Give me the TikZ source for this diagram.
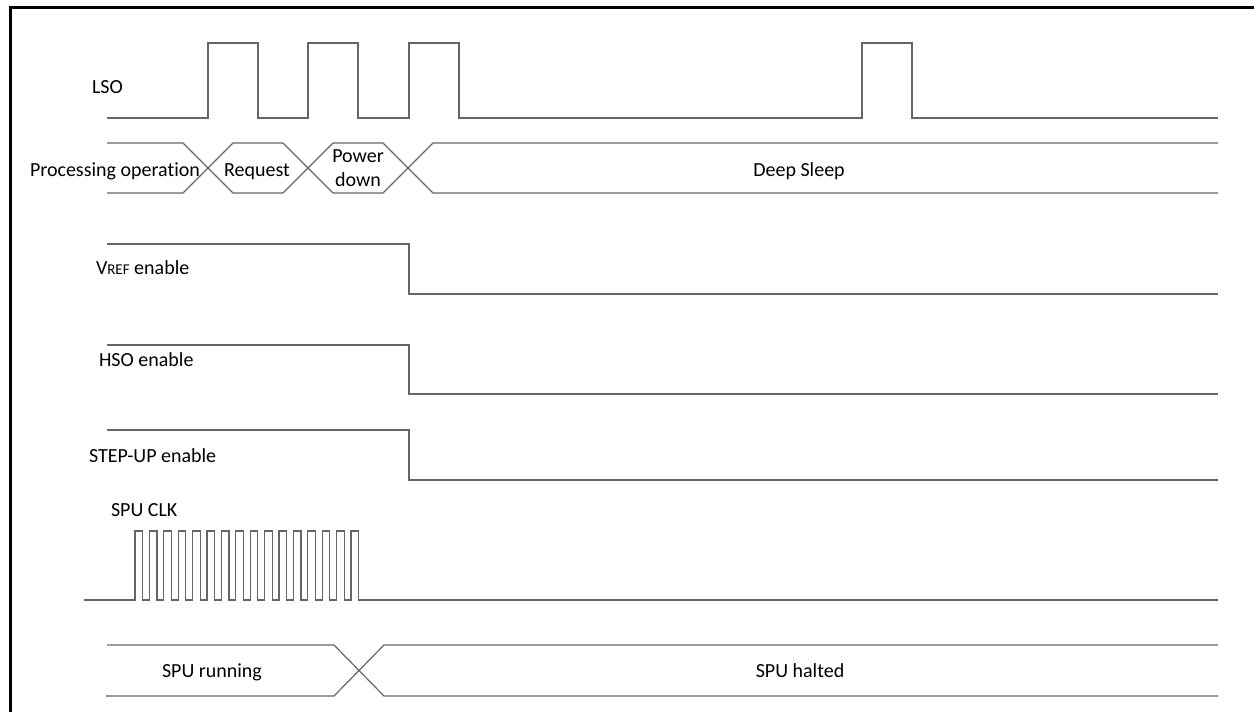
\documentclass[tikz,border=0pt]{standalone}
\usepackage{fontspec}
\setmainfont{Carlito}[Ligatures={NoCommon}]
\usepackage{tikz}

\begin{document}
\begin{tikzpicture}[x=1pt,y=1pt]
\useasboundingbox (0,0) rectangle (1254,712);

\definecolor[named]{wave}{gray}{0.40}
\tikzset{sig/.style={color=wave, line width=1.2pt, line join=miter},
  lbl/.style={font=\fontsize{20}{24}\selectfont}}

% frame
\draw[line width=3pt] (10,0) -- (10,704) -- (1254,704);

% LSO
\draw[sig] (107,594) -- (208,594) -- (208,669) -- (258,669) -- (258,594)
  -- (308,594) -- (308,669) -- (358,669) -- (358,594)
  -- (409,594) -- (409,669) -- (459,669) -- (459,594)
  -- (862,594) -- (862,669) -- (912,669) -- (912,594) -- (1218,594);

% state bus
\draw[sig] (107,569) -- (183,569) -- (233,519) -- (283,519) -- (333,569)
  -- (383,569) -- (433,519) -- (1218,519);
\draw[sig] (107,519) -- (183,519) -- (233,569) -- (283,569) -- (333,519)
  -- (383,519) -- (433,569) -- (1218,569);

% enables
\draw[sig] (107,468) -- (409,468) -- (409,418) -- (1218,418);
\draw[sig] (107,367) -- (409,367) -- (409,318) -- (1218,318);
\draw[sig] (107,282) -- (409,282) -- (409,232) -- (1218,232);

% SPU CLK
\draw[sig] (84,112) foreach \i in {0,...,15} {
  -- ({135+14.4*\i},112) -- ++(0,69) -- ++(7.6,0) -- ++(0,-69)} -- (1218,112);

% SPU bus
\draw[sig] (107,67) -- (334,67) -- (384,16) -- (1218,16);
\draw[sig] (106,16) -- (334,16) -- (384,67) -- (1218,67);

% labels
\begin{scope}[anchor=base west, inner sep=0pt, outer sep=0pt]
\node[lbl] (lso) at (92,618) {LSO};
\node[lbl] (vref) at (96,437) {V{\fontsize{15}{18}\selectfont REF} enable};
\node[lbl] (hso) at (99,345) {HSO enable};
\node[lbl] (stepup) at (89,249) {STEP-UP enable};
\node[lbl] (spuclk) at (111,195) {SPU CLK};
\end{scope}

\begin{scope}[anchor=base, inner sep=0pt, outer sep=0pt]
\node[lbl] (proc) at (115,535) {Processing operation};
\node[lbl] (req) at (257,535) {Request};
\node[lbl] (pwr) at (358,549) {Power};
\node[lbl] (down) at (358,525) {down};
\node[lbl] (sleep) at (799,535) {Deep Sleep};
\node[lbl] (spurun) at (212,34) {SPU running};
\node[lbl] (spuhalt) at (800,34) {SPU halted};
\end{scope}

\end{tikzpicture}
\end{document}
